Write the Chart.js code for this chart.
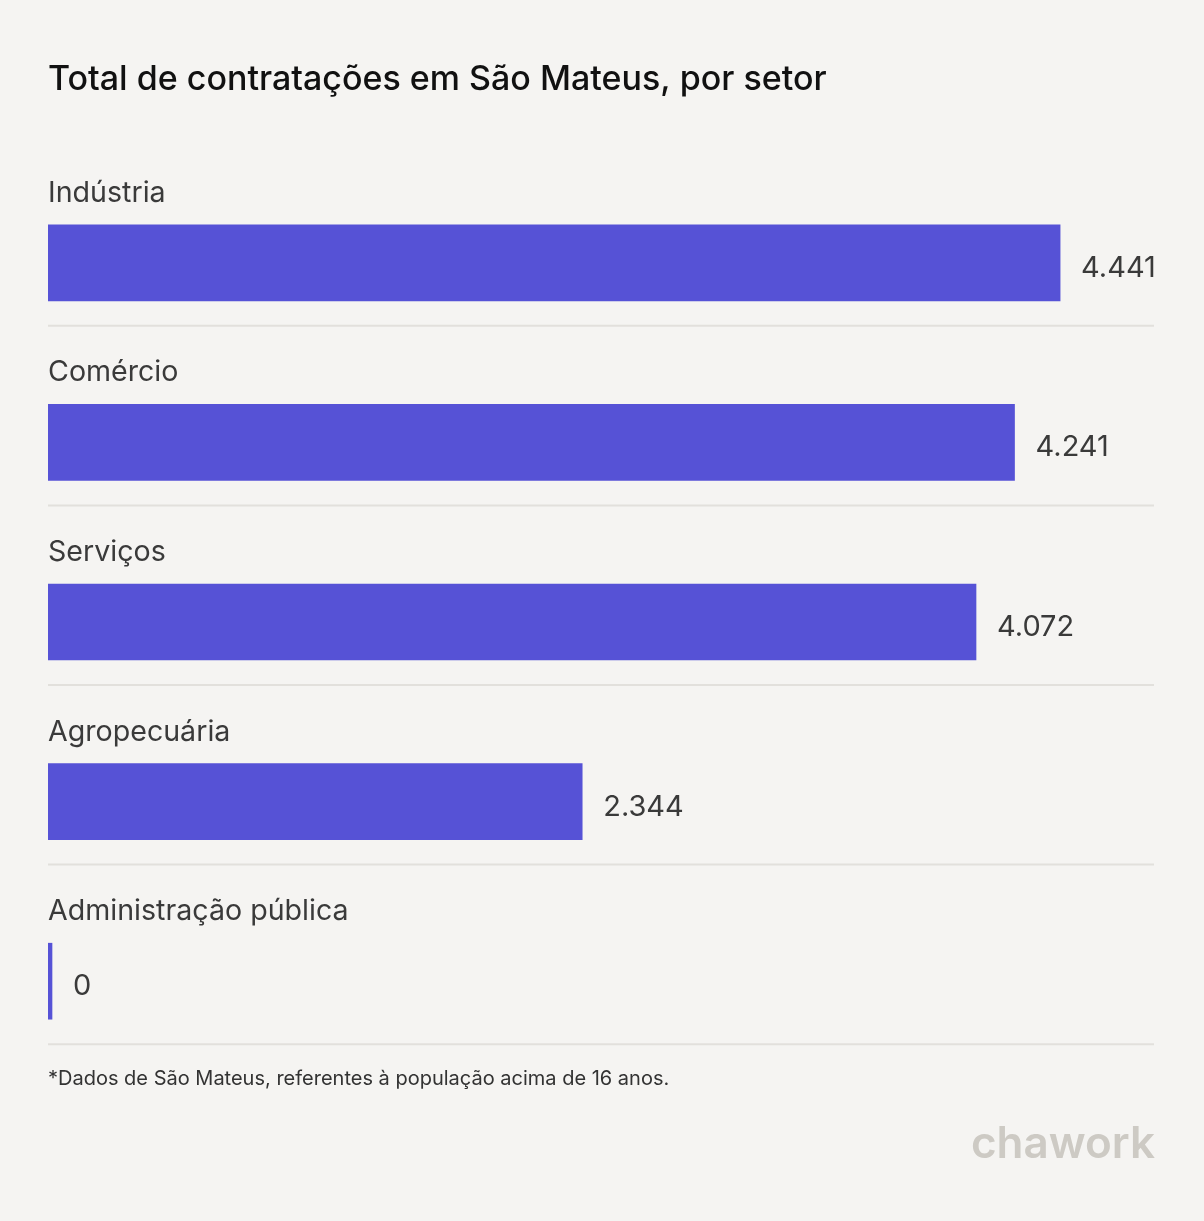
<!DOCTYPE html>
<html lang="pt-BR">
<head>
<meta charset="utf-8">
<title>Total de contratações em São Mateus, por setor</title>
<script src="https://cdn.jsdelivr.net/npm/chart.js@4.4.1/dist/chart.umd.min.js"></script>
<style>
  html, body { margin: 0; padding: 0; background: #f5f4f2; }
  #wrap { position: relative; width: 1204px; height: 1221px; }
</style>
</head>
<body>
<div id="wrap"><canvas id="setorChart"></canvas></div>
<script>
// Dados (contratações por setor)
const setores = ['Indústria', 'Comércio', 'Serviços', 'Agropecuária', 'Administração pública'];
const contratacoes = [4441, 4241, 4072, 2344, 0];
const rotulos = ['4.441', '4.241', '4.072', '2.344', '0'];

const titulo = 'Total de contratações em São Mateus, por setor';
const nota = '*Dados de São Mateus, referentes à população acima de 16 anos.';

const FONTE = 'Inter, "Noto Sans", sans-serif';

// plugin para textos, rótulos e linhas separadoras
const textosPlugin = {
    id: 'textos',
    afterDatasetsDraw(chart) {
        const ctx = chart.ctx;
        const area = chart.chartArea;
        const meta = chart.getDatasetMeta(0);
        ctx.save();

        ctx.fillStyle = '#111111';
        ctx.font = '500 34px ' + FONTE;
        ctx.textBaseline = 'alphabetic';
        ctx.textAlign = 'left';
        ctx.fillText(titulo, area.left, 90);

        meta.data.forEach((bar, i) => {
            const props = bar.getProps(['x', 'y', 'height'], true);
            const topo = props.y - props.height / 2;
            const base = props.y + props.height / 2;

            ctx.fillStyle = '#3a3a3a';
            ctx.font = '400 28.6px ' + FONTE;
            ctx.textAlign = 'left';
            ctx.fillText(setores[i], area.left, topo - 23);

            ctx.font = '400 29px ' + FONTE;
            ctx.fillText(rotulos[i], props.x + 21, props.y + 14);

            ctx.strokeStyle = '#e2e0dc';
            ctx.lineWidth = 2;
            ctx.beginPath();
            ctx.moveTo(area.left, base + 25);
            ctx.lineTo(area.right, base + 25);
            ctx.stroke();
        });

        ctx.fillStyle = '#333333';
        ctx.font = '400 20px ' + FONTE;
        ctx.fillText(nota, area.left, 1085);

        ctx.fillStyle = '#cdcac4';
        ctx.font = '600 44px ' + FONTE;
        ctx.textAlign = 'right';
        ctx.fillText('chawork', area.right + 1, 1158);

        ctx.restore();
    }
};

const ctx1 = document.getElementById('setorChart').getContext('2d');
new Chart(ctx1, {
    type: 'bar',
    data: {
        labels: setores,
        datasets: [{
            label: 'Contratações',
            data: contratacoes,
            backgroundColor: '#5652d6',
            borderWidth: 0,
            barThickness: 76,
            minBarLength: 4
        }]
    },
    options: {
        indexAxis: 'y',
        responsive: true,
        maintainAspectRatio: false,
        animation: false,
        layout: {
            padding: { left: 48, right: 50, top: 173, bottom: 150 }
        },
        plugins: {
            legend: { display: false },
            title: { display: false },
            tooltip: { enabled: false }
        },
        scales: {
            x: {
                display: false,
                min: 0,
                max: 4853
            },
            y: {
                display: false
            }
        }
    },
    plugins: [textosPlugin]
});
</script>
</body>
</html>
